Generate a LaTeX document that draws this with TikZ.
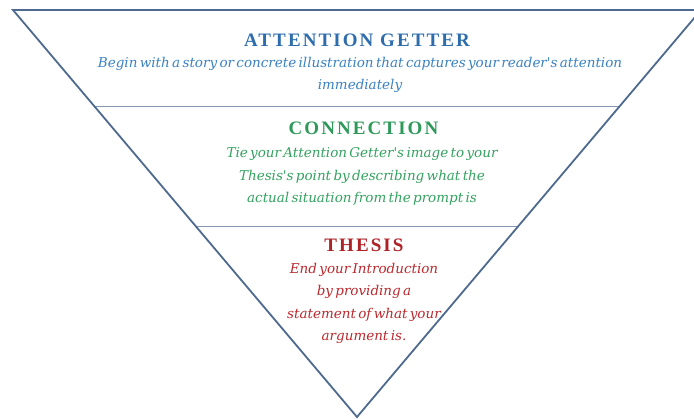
\documentclass[tikz,border=0pt]{standalone}
\usepackage{fontspec}
\setmainfont{Liberation Serif}
\newfontfamily\bodyfont[WordSpace=0.55]{DejaVu Serif}
\definecolor{edge}{HTML}{4E6A8E}
\definecolor{bluehead}{HTML}{2E6DAD}
\definecolor{bluetext}{HTML}{3A82C2}
\definecolor{greenhead}{HTML}{2E9A5A}
\definecolor{greentext}{HTML}{34A260}
\definecolor{redhead}{HTML}{AE2328}
\definecolor{redtext}{HTML}{BA2A2E}
\tikzset{
  head/.style={font=\fontsize{19}{20}\selectfont\bfseries\addfontfeature{LetterSpace=11}, inner sep=0pt, anchor=base},
  body/.style={font=\bodyfont\fontsize{13.5}{22.5}\selectfont\itshape, inner sep=0pt, anchor=base, align=center},
  rule/.style={draw=edge, line width=1.8pt},
  sep/.style={draw=edge!70, line width=1pt}
}
\begin{document}
\begin{tikzpicture}[x=1pt,y=-1pt]
\useasboundingbox (0,0) rectangle (694,419);
\fill[white] (0,0) rectangle (694,419);
\begin{scope}
\clip (0,0) rectangle (694,419);
\coordinate (tl) at (13,10);
\coordinate (tr) at (701,10);
\coordinate (ap) at (357,417);
\coordinate (l1) at (95,107);
\coordinate (r1) at (619,107);
\coordinate (l2) at (196,227);
\coordinate (r2) at (518,227);
\draw[sep] (l1) -- (r1);
\draw[sep] (l2) -- (r2);
\draw[rule, line join=miter] (tr) -- (tl) -- (ap) -- (tr);
\end{scope}
\node[head, text=bluehead] (h1) at (357,47) {ATTENTION GETTER};
\node[body, text=bluetext] (b1) at (360,90) {Begin with a story or concrete illustration that captures your reader's attention\\immediately};
\node[head, text=greenhead] (h2) at (363.5,135) {CONNECTION};
\node[body, text=greentext] (b2) at (362,203) {Tie your Attention Getter's image to your\\Thesis's point by describing what the\\actual situation from the prompt is};
\node[head, text=redhead] (h3) at (364,252) {THESIS};
\node[body, text=redtext] (b3) at (364,341) {End your Introduction\\by providing a\\statement of what your\\argument is.};
\end{tikzpicture}
\end{document}
